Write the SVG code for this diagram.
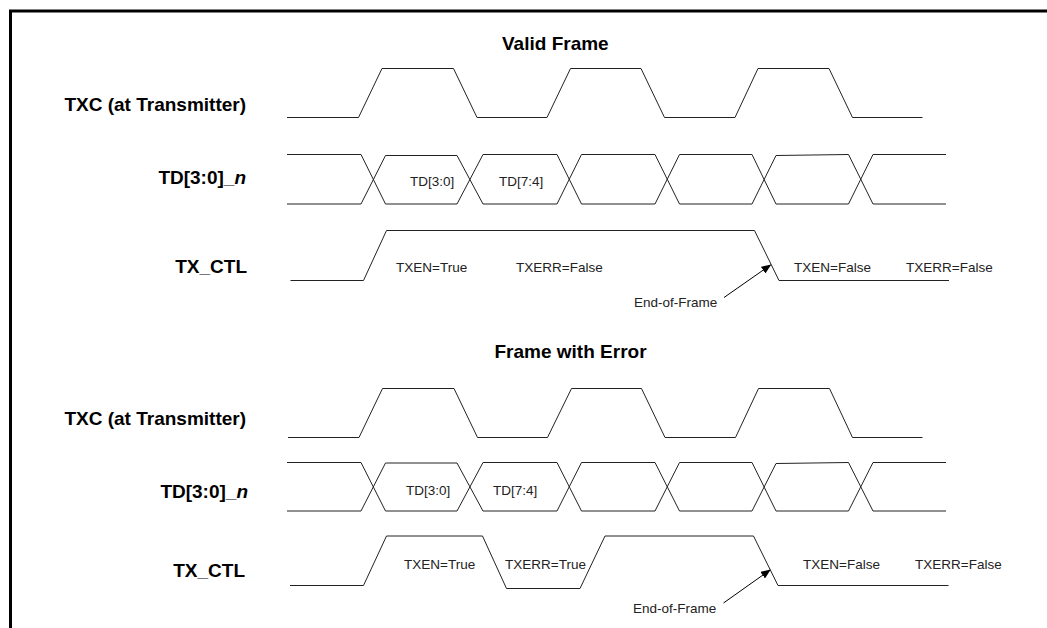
<svg xmlns="http://www.w3.org/2000/svg" width="1047" height="628" viewBox="0 0 1047 628">
<style>
.lbl{font-family:"Liberation Sans",Arial,sans-serif;font-weight:bold;font-size:19px;fill:#000;text-anchor:end}
.ttl{font-family:"Liberation Sans",Arial,sans-serif;font-weight:bold;font-size:19px;fill:#000}
.t{font-family:"Liberation Sans",Arial,sans-serif;font-size:13.5px;fill:#222}
.w{fill:none;stroke:#222;stroke-width:1}
.frame{fill:none;stroke:#000;stroke-width:3}
</style>
<defs>
<marker id="ah" markerWidth="10" markerHeight="8" refX="9" refY="4" orient="auto" markerUnits="userSpaceOnUse">
<path d="M0,0 L10,4 L0,8 Z" fill="#000"/>
</marker>
</defs>
<rect width="1047" height="628" fill="#fff"/>
<path class="frame" d="M10.5,628 V11 H1047"/>

<g id="valid-frame">
<text class="ttl" x="502" y="50">Valid Frame</text>
<g id="txc-top">
<text class="lbl" x="246" y="111">TXC (at Transmitter)</text>
<path class="w" d="M287,117.5 H358.5 L382,68.5 H453.5 L477,117.5 H547 L570.5,68.5 H641 L664.5,117.5 H735 L758,68.5 H829 L852.5,117.5 H922.5"/>
</g>
<g id="td-top">
<text class="lbl" x="246" y="184"><tspan>TD[3:0]_</tspan><tspan font-style="italic">n</tspan></text>
<path class="w" d="M287,154.5 H361 L385.5,204 H457 L483,154.5 H557 L581.5,204 H655 L679.5,154.5 H752 L776,204 H848.5 L873,154.5 H946"/>
<path class="w" d="M287,204 H361 L385.5,155.5 H457 L483,204 H557 L581.5,154.5 H655 L679.5,204 H752 L776,155.5 L848.5,154.5 L873,204 H946"/>
<text class="t" x="410" y="186">TD[3:0]</text>
<text class="t" x="499" y="186">TD[7:4]</text>
</g>
<g id="txctl-top">
<text class="lbl" x="247" y="273">TX_CTL</text>
<path class="w" d="M290.5,280.5 H363.5 L386.5,230.5 H754.5 L779,280.5 H949"/>
<text class="t" x="396" y="272">TXEN=True</text>
<text class="t" x="516" y="272">TXERR=False</text>
<text class="t" x="794" y="272">TXEN=False</text>
<text class="t" x="906" y="272">TXERR=False</text>
<text class="t" x="634" y="307">End-of-Frame</text>
</g>
</g>

<g id="error-frame">
<text class="ttl" x="494.5" y="358">Frame with Error</text>
<g id="txc-bot">
<text class="lbl" x="246" y="425">TXC (at Transmitter)</text>
<path class="w" d="M288,437.5 H359 L382.5,388.5 H454 L477.5,437.5 H547.5 L571.5,388.5 H641.5 L665,437.5 H735.5 L758.5,388.5 H829.5 L852.5,437.5 H922.5"/>
</g>
<g id="td-bot">
<text class="lbl" x="248" y="498"><tspan>TD[3:0]_</tspan><tspan font-style="italic">n</tspan></text>
<path class="w" d="M287,462.5 H361 L385.5,511 H457 L483,462.5 H557 L581.5,511 H655 L679.5,462.5 H752 L776,511 H848.5 L873,462.5 H946"/>
<path class="w" d="M287,511 H361 L385.5,463 H457 L483,511 H557 L581.5,462.5 H655 L679.5,511 H752 L776,463.5 L848.5,462.5 L873,511 H946"/>
<text class="t" x="406" y="495">TD[3:0]</text>
<text class="t" x="493" y="495">TD[7:4]</text>
</g>
<g id="txctl-bot">
<text class="lbl" x="245" y="577">TX_CTL</text>
<path class="w" d="M290,585.5 H363.5 L386.5,536 H482.5 L506.5,588.5 H580 L605,536 H753.5 L778,585.5 H948.5"/>
<text class="t" x="404" y="569">TXEN=True</text>
<text class="t" x="505" y="569">TXERR=True</text>
<text class="t" x="803" y="569">TXEN=False</text>
<text class="t" x="915" y="569">TXERR=False</text>
<text class="t" x="633" y="612.5">End-of-Frame</text>
</g>
</g>

<g id="connectors">
<line x1="724" y1="297.5" x2="770.5" y2="265" stroke="#000" stroke-width="1" marker-end="url(#ah)"/>
<line x1="723.5" y1="603" x2="770" y2="570" stroke="#000" stroke-width="1" marker-end="url(#ah)"/>
</g>
</svg>
